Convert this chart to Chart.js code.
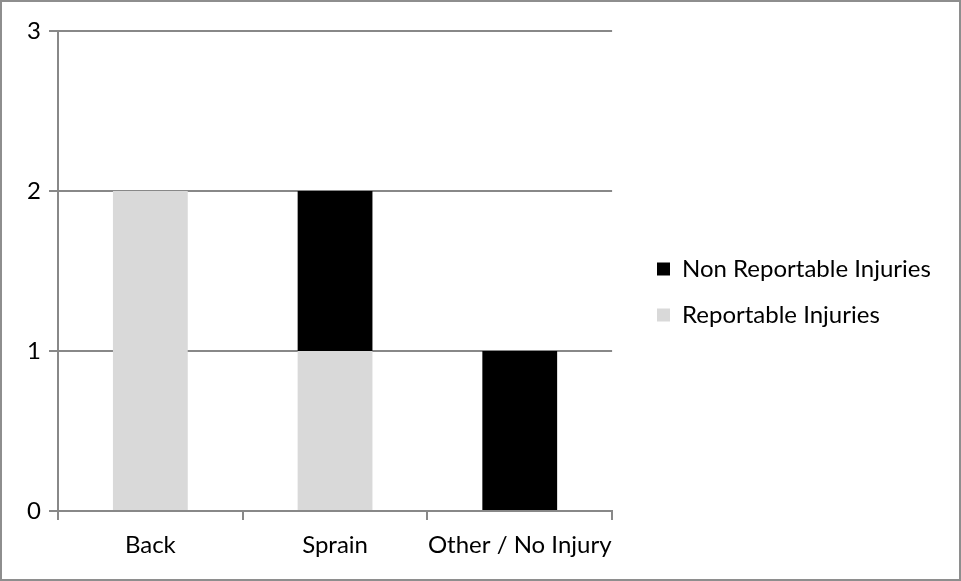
<!DOCTYPE html>
<html>
<head>
<meta charset="utf-8">
<script src="https://cdn.jsdelivr.net/npm/chart.js@4"></script>
<style>
  html, body { margin: 0; padding: 0; background: #fff; }
  #frame {
    position: absolute; left: 0; top: 0;
    width: 957px; height: 577px;
    border: 2px solid #8e8e8e;
    background: #fff;
  }
  #wrap { position: absolute; left: -2px; top: -2px; width: 961px; height: 581px; }
</style>
</head>
<body>
<div id="frame"><div id="wrap"><canvas id="c" width="961" height="581"></canvas></div></div>
<script>
// Injury counts by category
const categories = ['Back', 'Sprain', 'Other / No Injury'];
const reportable = [2, 1, 0];
const nonReportable = [0, 1, 1];
const yTicks = [0, 1, 2, 3];

const FONT = 'Lato, "Liberation Sans", sans-serif';
const AXIS_GRAY = '#888888';
const LEGEND_PAD = 22;

// Place the legend block a little right of and above its default slot
const legendShift = {
  id: 'legendShift',
  afterLayout(chart) {
    const lg = chart.legend;
    if (!lg) return;
    lg.left = 657 - LEGEND_PAD;
    lg.right = chart.width;
    lg.top -= 11;
    lg.bottom -= 11;
  }
};

new Chart(document.getElementById('c'), {
  type: 'bar',
  data: {
    labels: categories,
    datasets: [
      { label: 'Reportable Injuries', data: reportable, backgroundColor: '#d9d9d9' },
      { label: 'Non Reportable Injuries', data: nonReportable, backgroundColor: '#000000' }
    ]
  },
  plugins: [legendShift],
  options: {
    responsive: false,
    animation: false,
    layout: { padding: { top: 31, left: 10, right: 43, bottom: 6 } },
    datasets: { bar: { barPercentage: 0.405, categoryPercentage: 1.0 } },
    plugins: {
      tooltip: { enabled: false },
      legend: {
        position: 'right',
        reverse: true,
        maxWidth: 961 - 613,
        labels: {
          font: { family: FONT, size: 24 },
          color: '#000',
          boxWidth: 13,
          boxHeight: 13,
          padding: LEGEND_PAD
        }
      }
    },
    scales: {
      x: {
        stacked: true,
        grid: { drawOnChartArea: false, drawTicks: true, tickLength: 9, color: AXIS_GRAY, lineWidth: 2 },
        border: { color: AXIS_GRAY, width: 2 },
        ticks: { font: { family: FONT, size: 24 }, color: '#000', padding: 11, maxRotation: 0, autoSkip: false },
        afterFit: s => { s.height = 64; }
      },
      y: {
        stacked: true,
        min: 0, max: 3,
        afterBuildTicks: s => { s.ticks = yTicks.map(v => ({ value: v })); },
        grid: { color: AXIS_GRAY, lineWidth: 2, tickLength: 9 },
        border: { color: AXIS_GRAY, width: 2 },
        ticks: { font: { family: FONT, size: 24 }, color: '#000', padding: 8 },
        afterFit: s => { s.width = 48; }
      }
    }
  }
});
</script>
</body>
</html>
